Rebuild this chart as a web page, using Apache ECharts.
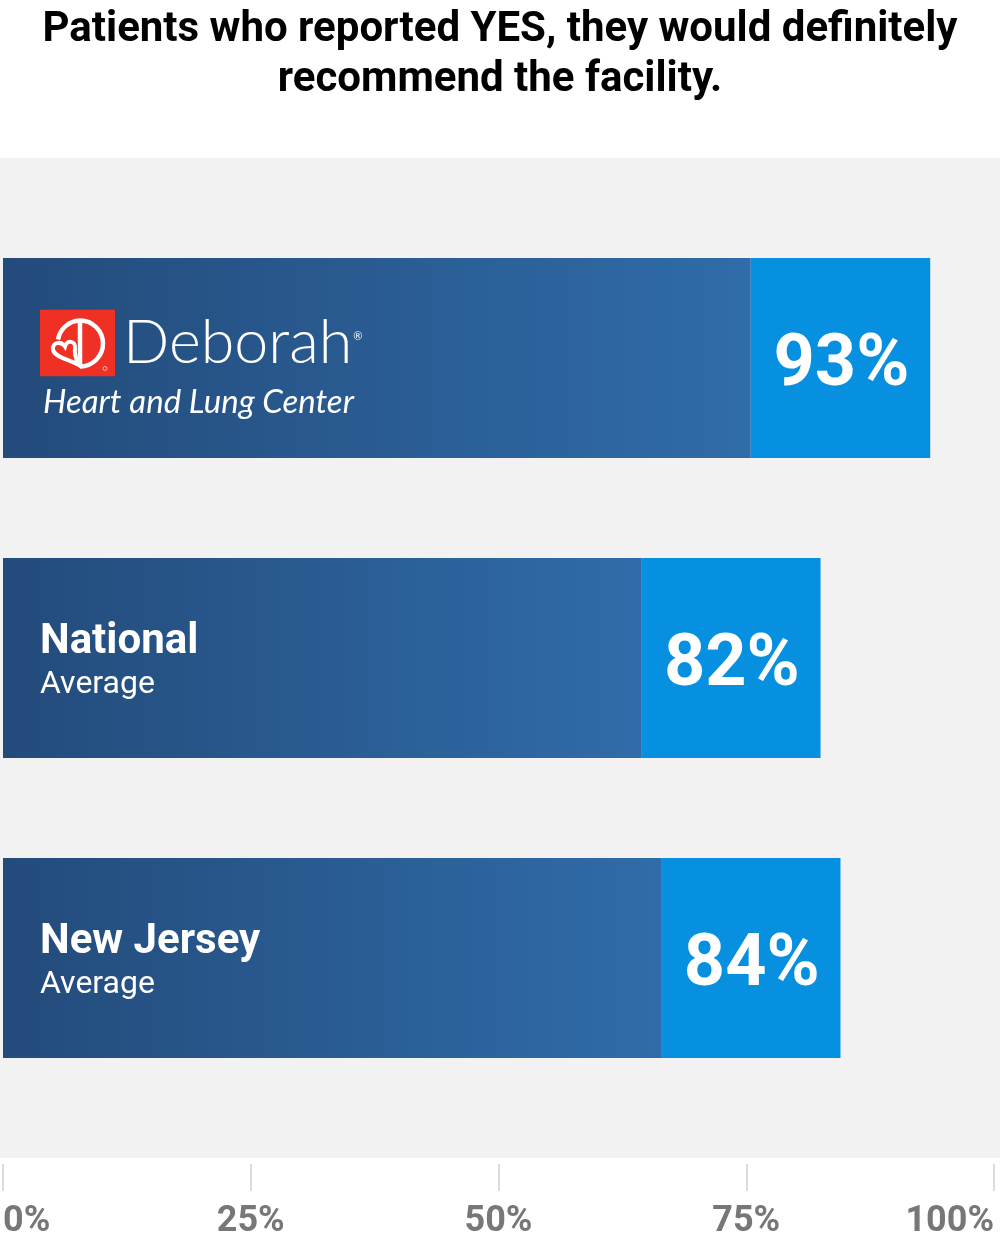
<!DOCTYPE html>
<html>
<head>
<meta charset="utf-8">
<script src="https://cdn.jsdelivr.net/npm/echarts@6/dist/echarts.min.js"></script>
<style>
  html, body { margin: 0; padding: 0; background: #ffffff; }
  #chart { width: 1000px; height: 1240px; }
</style>
</head>
<body>
<div id="chart"></div>
<script>
// ---- data ----
var titleText = 'Patients who reported YES, they would definitely\nrecommend the facility.';
var categories = ['Deborah Heart and Lung Center', 'National Average', 'New Jersey Average'];
var values = [93, 82, 84];
var tickValues = [0, 25, 50, 75, 100];
var tickLabels = ['0%', '25%', '50%', '75%', '100%'];

// ---- style constants ----
var TAB = 18; // width (in axis units) of the light value tab at the end of each bar
var logoSvg =
  "<svg xmlns='http://www.w3.org/2000/svg' width='75' height='67' viewBox='0 0 75 67'>" +
  "<rect width='75' height='67' fill='#ee3124'/>" +
  "<path d='M40 11 A23 23 0 1 1 40 57' fill='none' stroke='white' stroke-width='4.5'/>" +
  "<path d='M40 11 V57' fill='none' stroke='white' stroke-width='4.5'/>" +
  "<path d='M40 11 A23 23 0 0 0 18 30' fill='none' stroke='white' stroke-width='4.5'/>" +
  "<path d='M38 55 C30 50 14 48 13 40 C12 33 21 31 25 37 C27 30 36 31 35 39 C34 45 37 50 38 55 Z' fill='none' stroke='white' stroke-width='4'/>" +
  "<circle cx='65' cy='59' r='2' fill='none' stroke='white' stroke-width='0.6'/>" +
  "</svg>";
var logoUrl = 'data:image/svg+xml;charset=utf-8,' + encodeURIComponent(logoSvg);

var chart = echarts.init(document.getElementById('chart'), null, { renderer: 'canvas' });

var darkGradient = new echarts.graphic.LinearGradient(0, 0, 1, 0, [
  { offset: 0, color: '#234b7b' },
  { offset: 1, color: '#306ca9' }
]);

var option = {
  backgroundColor: '#ffffff',
  animation: false,
  title: {
    text: titleText,
    left: 'center',
    top: 0,
    textStyle: {
      fontFamily: 'Roboto',
      fontWeight: 'bold',
      fontSize: 42,
      lineHeight: 50,
      color: '#000000'
    }
  },
  graphic: [{
    type: 'rect',
    z: -10,
    silent: true,
    shape: { x: 0, y: 158, width: 1000, height: 1000 },
    style: { fill: '#f2f2f2' }
  }],
  grid: [
    { left: 3, width: 1003, top: 208, height: 900 },
    { left: 2, width: 992, top: 208, height: 900 }
  ],
  xAxis: [
    {
      gridIndex: 0,
      type: 'value',
      min: 0,
      max: 100,
      show: false
    },
    {
      gridIndex: 1,
      type: 'value',
      min: 0,
      max: 100,
      interval: 25,
      offset: 56,
      axisLine: { show: false },
      splitLine: { show: false },
      axisTick: {
        show: true,
        length: 27,
        lineStyle: { color: '#dcdcdc', width: 2 }
      },
      axisLabel: {
        margin: 40,
        verticalAlign: 'top',
        alignMinLabel: 'left',
        alignMaxLabel: 'right',
        fontFamily: 'Roboto',
        fontWeight: 'bold',
        fontSize: 36,
        color: '#777777',
        formatter: function (v) {
          var i = tickValues.indexOf(v);
          return i >= 0 ? tickLabels[i] : '';
        }
      }
    }
  ],
  yAxis: [
    {
      gridIndex: 0,
      type: 'category',
      inverse: true,
      data: categories,
      show: false
    },
    {
      gridIndex: 1,
      type: 'category',
      inverse: true,
      data: categories,
      show: false
    }
  ],
  series: [
    {
      type: 'bar',
      xAxisIndex: 0,
      yAxisIndex: 0,
      stack: 'total',
      barWidth: 200,
      data: values.map(function (v, i) {
        return i === 0 ? { value: v - TAB, label: { offset: [0, 8] } } : v - TAB;
      }),
      itemStyle: { color: darkGradient },
      label: {
        show: true,
        position: 'insideLeft',
        distance: 37,
        offset: [0, 4],
        formatter: function (p) {
          if (p.dataIndex === 0) {
            return '{logo|}{sp|}{deb|Deborah}{reg|®}\n{hl|Heart and Lung Center}';
          }
          var parts = categories[p.dataIndex].split(' ');
          var last = parts.pop();
          return '{b|' + parts.join(' ') + '}\n{r|' + last + '}';
        },
        rich: {
          logo: {
            width: 75,
            height: 67,
            backgroundColor: { image: logoUrl }
          },
          sp: { width: 8, height: 72 },
          deb: {
            fontFamily: 'Lato',
            fontWeight: 300,
            fontSize: 61,
            color: '#ffffff',
            height: 72,
            lineHeight: 72
          },
          reg: {
            fontFamily: 'Lato',
            fontSize: 11,
            color: '#ffffff',
            height: 72,
            lineHeight: 72,
            padding: [0, 0, 14, 1]
          },
          hl: {
            fontFamily: 'Lato',
            fontStyle: 'italic',
            fontSize: 33,
            color: '#ffffff',
            lineHeight: 46,
            padding: [0, 0, 0, 3]
          },
          b: {
            fontFamily: 'Roboto',
            fontWeight: 'bold',
            fontSize: 42,
            color: '#ffffff',
            lineHeight: 46
          },
          r: {
            fontFamily: 'Roboto',
            fontSize: 32,
            color: '#ffffff',
            lineHeight: 40
          }
        }
      }
    },
    {
      type: 'bar',
      xAxisIndex: 0,
      yAxisIndex: 0,
      stack: 'total',
      barWidth: 200,
      data: values.map(function () { return TAB; }),
      itemStyle: { color: '#078fe0' },
      label: {
        show: true,
        position: 'inside',
        offset: [1, 9],
        fontFamily: 'Roboto',
        fontWeight: 'bold',
        fontSize: 72,
        color: '#ffffff',
        formatter: function (p) { return values[p.dataIndex] + '%'; }
      }
    }
  ]
};

chart.setOption(option);
</script>
</body>
</html>
